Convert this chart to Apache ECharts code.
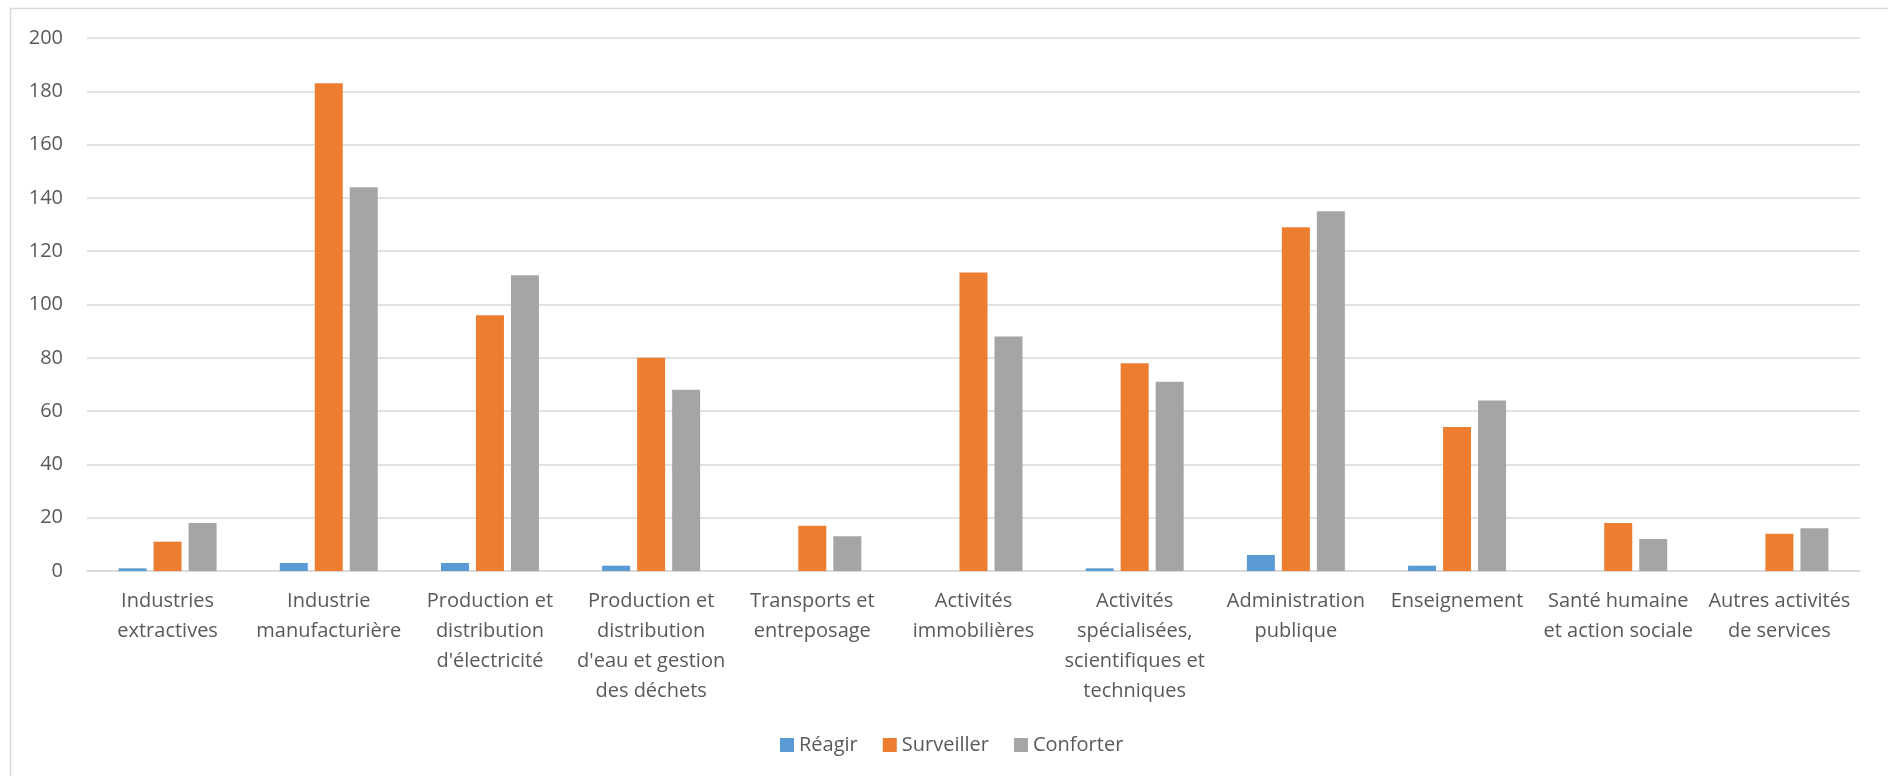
<!DOCTYPE html>
<html>
<head>
<meta charset="utf-8">
<script src="https://cdn.jsdelivr.net/npm/echarts@6/dist/echarts.min.js"></script>
<style>
  html, body { margin: 0; padding: 0; background: #fff; }
  #chart { width: 1888px; height: 776px; }
</style>
</head>
<body>
<div id="chart"></div>
<script>
// Sectors (line breaks as shown under the axis)
const categories = [
  'Industries\nextractives',
  'Industrie\nmanufacturière',
  'Production et\ndistribution\nd\'électricité',
  'Production et\ndistribution\nd\'eau et gestion\ndes déchets',
  'Transports et\nentreposage',
  'Activités\nimmobilières',
  'Activités\nspécialisées,\nscientifiques et\ntechniques',
  'Administration\npublique',
  'Enseignement',
  'Santé humaine\net action sociale',
  'Autres activités\nde services'
];

const reagir     = [1, 3, 3, 2, 0, 0, 1, 6, 2, 0, 0];
const surveiller = [11, 183, 96, 80, 17, 112, 78, 129, 54, 18, 14];
const conforter  = [18, 144, 111, 68, 13, 88, 71, 135, 64, 12, 16];

const seriesNames = ['Réagir', 'Surveiller', 'Conforter'];
const seriesColors = ['#5B9BD5', '#ED7D31', '#A5A5A5'];
const seriesData = [reagir, surveiller, conforter];

const textColor = '#595959';
const fontFamily = '"Open Sans", "Noto Sans", sans-serif';

const chart = echarts.init(document.getElementById('chart'), null, { renderer: 'canvas' });

chart.setOption({
  animation: false,
  backgroundColor: '#ffffff',
  textStyle: { fontFamily: fontFamily, color: textColor },
  graphic: [{
    type: 'rect',
    silent: true,
    shape: { x: 10.5, y: 8.5, width: 1900, height: 800 },
    style: { fill: 'none', stroke: '#D9D9D9', lineWidth: 1.5 },
    z: -1
  }],
  legend: {
    data: seriesNames,
    left: 775,
    top: 730,
    icon: 'rect',
    itemWidth: 14,
    itemHeight: 14,
    itemGap: 25,
    textStyle: { fontSize: 20, color: textColor, fontFamily: fontFamily }
  },
  grid: {
    left: 87,
    right: 28,
    top: 38,
    bottom: 205,
    containLabel: false
  },
  xAxis: {
    type: 'category',
    data: categories,
    axisLine: { show: true, lineStyle: { color: '#D9D9D9', width: 1.5 } },
    axisTick: { show: false },
    axisLabel: {
      interval: 0,
      margin: 15,
      fontSize: 20,
      lineHeight: 30,
      color: textColor,
      fontFamily: fontFamily,
      align: 'center',
      verticalAlign: 'top'
    }
  },
  yAxis: {
    type: 'value',
    min: 0,
    max: 200,
    interval: 20,
    axisLine: { show: false },
    axisTick: { show: false },
    axisLabel: {
      fontSize: 20,
      color: textColor,
      fontFamily: fontFamily,
      margin: 24
    },
    splitLine: { lineStyle: { color: '#D9D9D9', width: 1.5 } }
  },
  series: seriesNames.map((name, i) => ({
    name: name,
    type: 'bar',
    data: seriesData[i],
    barWidth: 28,
    barGap: '25%',
    itemStyle: { color: seriesColors[i] }
  }))
});
</script>
</body>
</html>
